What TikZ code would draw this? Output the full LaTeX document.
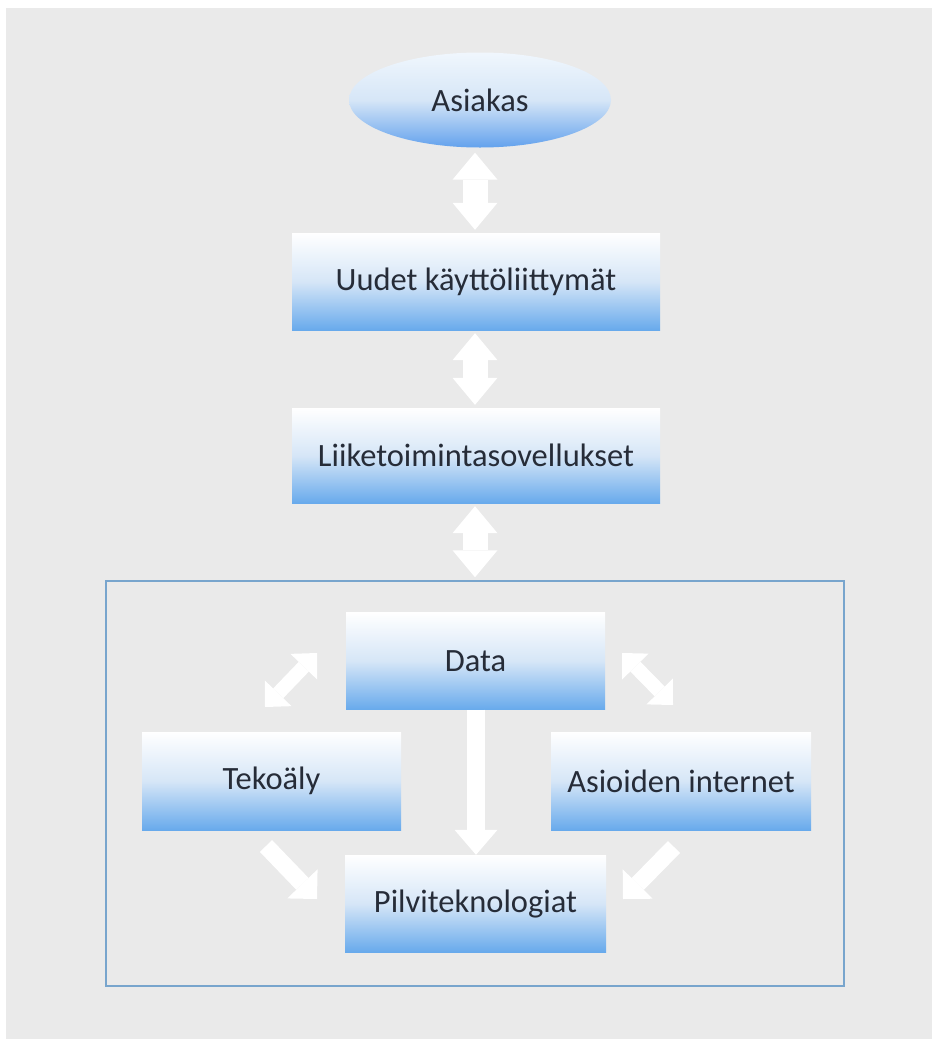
\documentclass[tikz,border=0pt]{standalone}
\usepackage{fontspec}
\setmainfont{Carlito}
\usetikzlibrary{shapes.geometric,arrows.meta}
\definecolor{bg}{RGB}{234,234,234}
\definecolor{boxblue}{RGB}{104,170,236}
\definecolor{boxmid}{RGB}{214,230,247}
\definecolor{txt}{RGB}{38,44,56}
\definecolor{framec}{RGB}{120,165,205}
\begin{document}
\begin{tikzpicture}[x=1pt,y=-1pt,
  box/.style={rectangle, top color=white, bottom color=boxblue, middle color=boxmid,
    text=txt, font=\fontsize{32.5}{37}\selectfont, inner sep=0pt},
  oval/.style={ellipse, top color=white!90!boxblue, bottom color=boxblue!95!blue, middle color=boxmid,
    text=txt, font=\fontsize{32.5}{37}\selectfont, inner sep=0pt},
  vdbl/.style={white, line width=25pt,
    {Triangle[width=45pt,length=27pt,line width=0pt]}-{Triangle[width=45pt,length=27pt,line width=0pt]}},
  vsgl/.style={white, line width=18pt, -{Triangle[width=43pt,length=25pt,line width=0pt]}},
  ddbl/.style={white, line width=14pt,
    {Triangle[width=37pt,length=19pt,line width=0pt]}-{Triangle[width=37pt,length=19pt,line width=0pt]}},
  dsgl/.style={white, line width=17pt, -{Triangle[width=42pt,length=21pt,line width=0pt]}},
  framebox/.style={draw=framec, line width=1.5pt, inner sep=0pt}
]
\useasboundingbox (0,0) rectangle (932,1039);
\fill[white] (0,0) rectangle (932,1039);
\fill[bg] (6,8) rectangle (932,1039);

\node[framebox, minimum width=738pt, minimum height=405pt] (frame) at (475,783.5) {};

\node[oval, minimum width=262pt, minimum height=95pt] (asiakas) at (480,100) {Asiakas};
\node[box, minimum width=368pt, minimum height=97pt] (uudet) at (476,281.5) {Uudet käyttöliittymät};
\node[box, minimum width=368pt, minimum height=95pt] (liike) at (476,455.5) {Liiketoimintasovellukset};
\node[box, minimum width=259pt, minimum height=97pt] (data) at (475.5,661) {Data};
\node[box, minimum width=259pt, minimum height=98pt] (tekoaly) at (271.5,781) {Tekoäly};
\node[box, minimum width=260pt, minimum height=98pt] (iot) at (681,781) {Asioiden internet};
\node[box, minimum width=261pt, minimum height=97pt] (pilvi) at (475.5,903.5) {Pilviteknologiat};

\draw[vdbl] ([xshift=-5pt,yshift=-5pt]asiakas.south) -- ([xshift=-1pt,yshift=3pt]uudet.north);
\draw[vdbl] ([xshift=-1pt,yshift=-3pt]uudet.south) -- ([xshift=-1pt,yshift=3pt]liike.north);
\draw[vdbl] ([xshift=-1pt,yshift=-3pt]liike.south) -- ([yshift=3pt]frame.north);
\draw[vsgl] ([xshift=0.5pt]data.south) -- ([xshift=0.5pt]pilvi.north);

\coordinate (dl1) at (265,707);
\coordinate (dl2) at (317,653);
\coordinate (dr1) at (622,653);
\coordinate (dr2) at (673,705);
\coordinate (sl1) at (266,846);
\coordinate (sl2) at (317,899);
\coordinate (sr1) at (674,847);
\coordinate (sr2) at (623,899);
\draw[ddbl] (dl1) -- (dl2);
\draw[ddbl] (dr1) -- (dr2);
\draw[dsgl] (sl1) -- (sl2);
\draw[dsgl] (sr1) -- (sr2);
\end{tikzpicture}
\end{document}
